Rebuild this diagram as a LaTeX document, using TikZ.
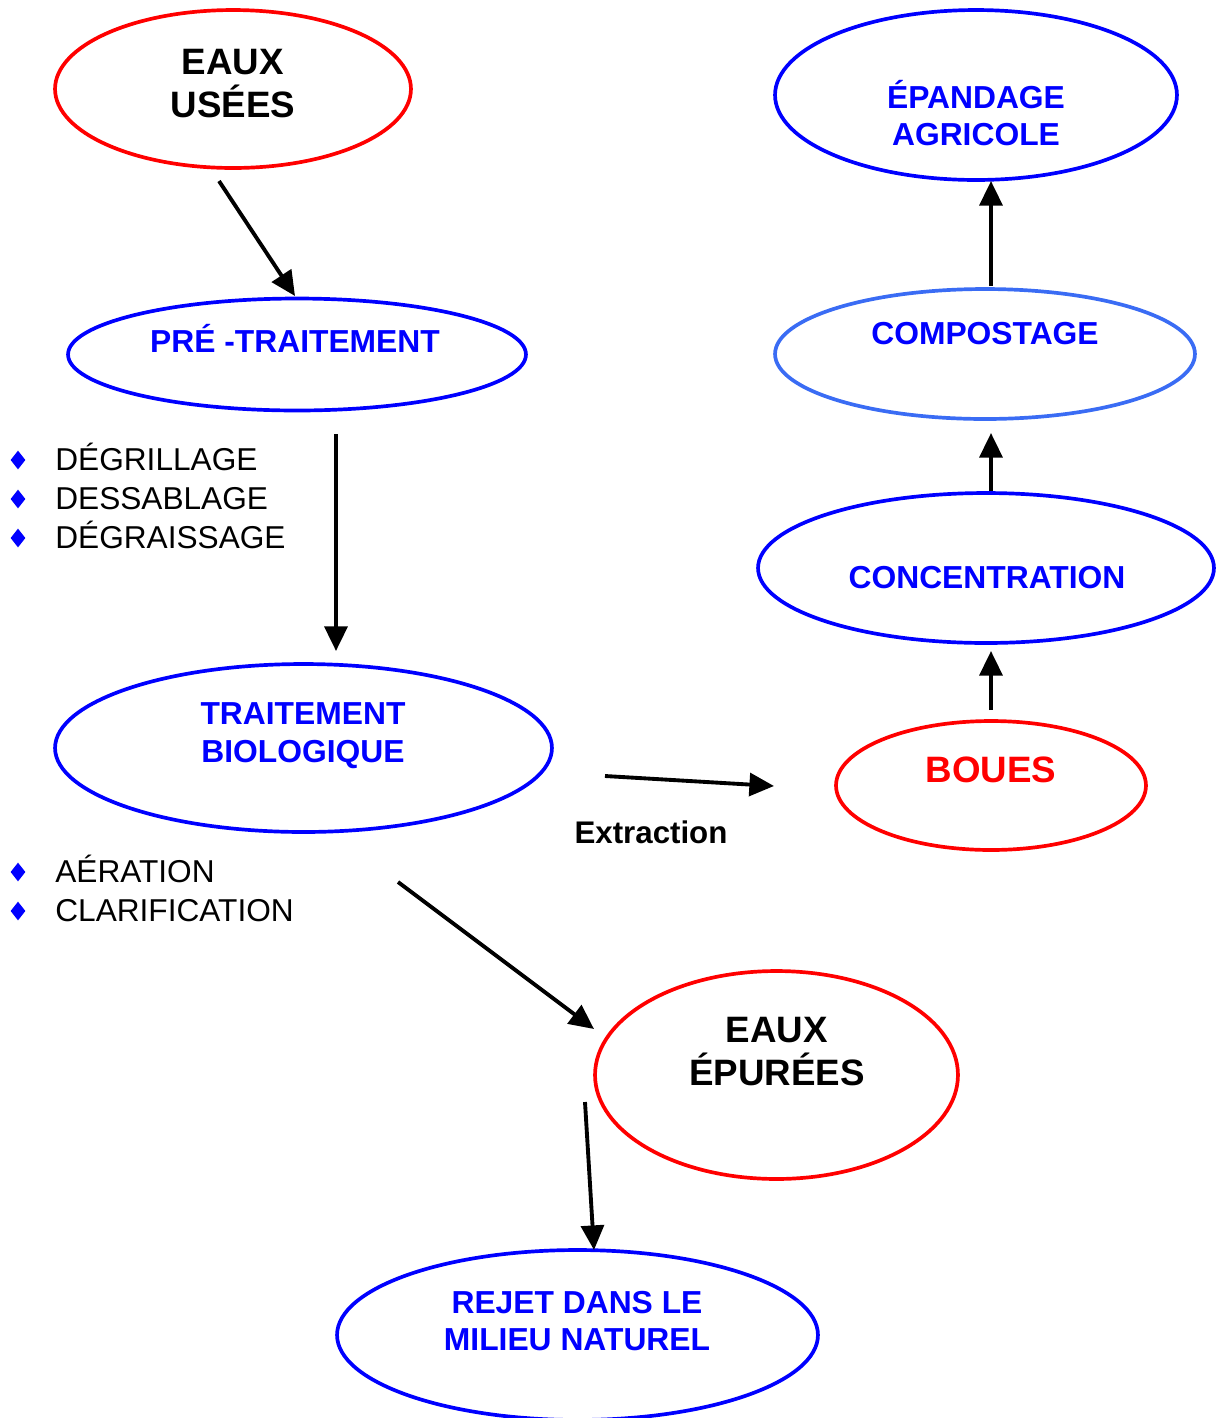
\documentclass[tikz,border=0pt]{standalone}
\usepackage{fontspec}
\setmainfont{Liberation Sans}
\usetikzlibrary{arrows.meta,shapes.geometric}
\definecolor{tblue}{HTML}{0000FF}
\definecolor{tred}{HTML}{FF0000}
\definecolor{lblue}{HTML}{3A6CF4}
\tikzset{
  ell/.style={ellipse, draw, line width=2.1pt, inner sep=0pt},
  redell/.style={ell, draw=tred},
  blueell/.style={ell, draw=tblue},
  bigtxt/.style={font=\fontsize{20.9pt}{24.5pt}\selectfont\bfseries, align=center, text=black},
  bluetxt/.style={font=\fontsize{18.1pt}{21.5pt}\selectfont\bfseries, align=center, text=tblue},
  itemtxt/.style={font=\fontsize{18pt}{21pt}\selectfont, anchor=base west, inner sep=0pt},
  bullet/.style={diamond, fill=tblue, inner sep=0pt, minimum width=0.3cm, minimum height=0.38cm},
  flow/.style={line width=2.2pt, -{Triangle[length=14pt,width=13pt]}}
}
\begin{document}
\begin{tikzpicture}[x=0.02cm, y=-0.02cm]
\useasboundingbox (0,0) rectangle (1217,1418);
\clip (0,0) rectangle (1217,1418);
% ellipses
\node[redell, minimum width=7.12cm, minimum height=3.16cm] (eu) at (233,89) {};
\node[blueell, minimum width=9.16cm, minimum height=2.24cm] (pre) at (297,354.5) {};
\node[blueell, minimum width=9.94cm, minimum height=3.36cm] (bio) at (303.5,748) {};
\node[redell, minimum width=7.26cm, minimum height=4.16cm] (epu) at (776.5,1075) {};
\node[blueell, minimum width=9.62cm, minimum height=3.4cm] (rej) at (577.5,1335) {};
\node[blueell, minimum width=8.04cm, minimum height=3.4cm] (epa) at (976,95) {};
\node[ell, draw=lblue, minimum width=8.4cm, minimum height=2.6cm] (com) at (985,354) {};
\node[blueell, minimum width=9.12cm, minimum height=3.0cm] (con) at (986,568) {};
\node[redell, minimum width=6.2cm, minimum height=2.58cm] (bou) at (991,785.5) {};
% texts
\node[bigtxt] (teu) at (233,84) {EAUX\\USÉES};
\node[bluetxt] (tpre) at (295,338) {PRÉ -TRAITEMENT};
\node[bluetxt] (tbio) at (303,736) {TRAITEMENT\\BIOLOGIQUE};
\node[bigtxt] (tepu) at (777,1052) {EAUX\\ÉPURÉES};
\node[bluetxt] (trej) at (577,1321) {REJET DANS LE\\MILIEU NATUREL};
\node[bluetxt] (tepa) at (976,113) {ÉPANDAGE\\AGRICOLE};
\node[bluetxt] (tcom) at (985,334) {COMPOSTAGE};
\node[bluetxt] (tcon) at (987,578) {CONCENTRATION};
\node[bigtxt, text=tred] (tbou) at (991,770) {BOUES};
\node[font=\fontsize{17.8pt}{21pt}\selectfont\bfseries] (text) at (651,832) {Extraction};
% bullet lists
\node[bullet] (b1) at (18,460) {};
\node[bullet] (b2) at (18,499) {};
\node[bullet] (b3) at (18,538) {};
\node[bullet] (b4) at (18,872) {};
\node[bullet] (b5) at (18,911) {};
\node[itemtxt] (i1) at (55,470) {DÉGRILLAGE};
\node[itemtxt] (i2) at (55,509) {DESSABLAGE};
\node[itemtxt] (i3) at (55,548) {DÉGRAISSAGE};
\node[itemtxt] (i4) at (55,882) {AÉRATION};
\node[itemtxt] (i5) at (55,921) {CLARIFICATION};
% arrow end points
\coordinate (a1s) at (219,181);
\coordinate (a1e) at (295,296);
\coordinate (a2s) at (336,434);
\coordinate (a2e) at (336,651);
\coordinate (a3s) at (605,776);
\coordinate (a3e) at (774,786);
\coordinate (a4s) at (398,882);
\coordinate (a4e) at (594,1029);
\coordinate (a5s) at (585,1102);
\coordinate (a5e) at (594,1250);
\coordinate (a6s) at (991,710);
\coordinate (a6e) at (991,651);
\coordinate (a7s) at (991,491);
\coordinate (a7e) at (991,433);
\coordinate (a8s) at (991,286);
\coordinate (a8e) at (991,181);
\draw[flow] (a1s) -- (a1e);
\draw[flow] (a2s) -- (a2e);
\draw[flow] (a3s) -- (a3e);
\draw[flow] (a4s) -- (a4e);
\draw[flow] (a5s) -- (a5e);
\draw[flow] (a6s) -- (a6e);
\draw[flow] (a7s) -- (a7e);
\draw[flow] (a8s) -- (a8e);
\end{tikzpicture}
\end{document}
